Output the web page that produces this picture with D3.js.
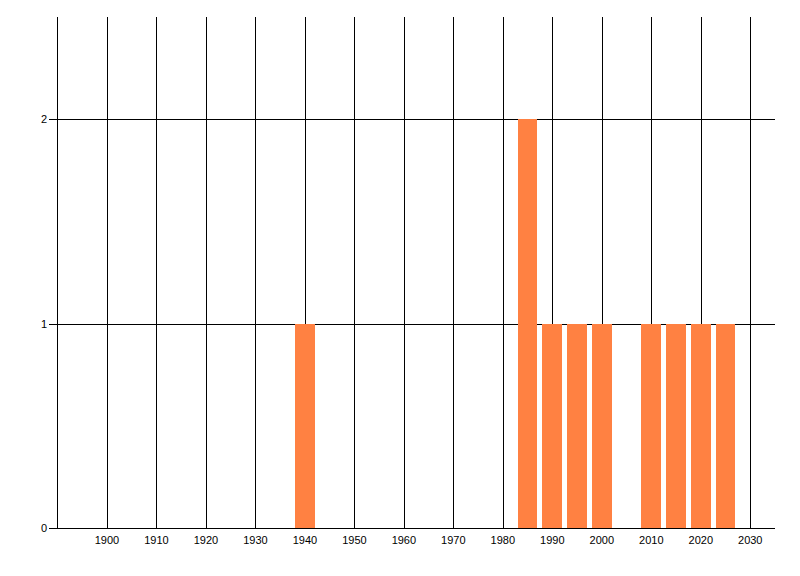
<!DOCTYPE html>
<html>
<head>
<meta charset="utf-8">
<script src="https://cdn.jsdelivr.net/npm/d3@7"></script>
<style>
html,body{margin:0;padding:0;background:#fff;}
svg{display:block;}
line,rect{shape-rendering:crispEdges;}
text{font-family:"Liberation Sans","DejaVu Sans",sans-serif;font-size:11px;fill:#000;}
</style>
</head>
<body>
<svg id="chart" width="800" height="576"></svg>
<script>
const years = [1940, 1985, 1990, 1995, 2000, 2010, 2015, 2020, 2025];
const counts = [1, 2, 1, 1, 1, 1, 1, 1, 1];
const xTicks = [1900, 1910, 1920, 1930, 1940, 1950, 1960, 1970, 1980, 1990, 2000, 2010, 2020, 2030];
const yTicks = [0, 1, 2];
const xDomain = [1890, 2035];
const yDomain = [0, 2.5];
const binWidth = 4;

(function () {
const svg = d3.select("#chart");
const pL = 57.5, pR = 775, pT = 17, pB = 528;
const x = d3.scaleLinear().domain(xDomain).range([pL, pR]);
const y = d3.scaleLinear().domain(yDomain).range([pB, pT]);

// vertical grid
svg.append("g").selectAll("line").data(xTicks).join("line")
  .attr("x1", d => Math.round(x(d)) + 0.5).attr("x2", d => Math.round(x(d)) + 0.5)
  .attr("y1", pT).attr("y2", pB)
  .attr("stroke", "#000").attr("stroke-width", 1);
// left axis line
svg.append("line").attr("x1", pL).attr("x2", pL).attr("y1", pT).attr("y2", pB)
  .attr("stroke", "#000");
// horizontal grid
svg.append("g").selectAll("line").data(yTicks.filter(d => d > 0)).join("line")
  .attr("x1", 49).attr("x2", pR)
  .attr("y1", d => Math.round(y(d)) + 0.5).attr("y2", d => Math.round(y(d)) + 0.5)
  .attr("stroke", "#000");

// bars
svg.append("g").selectAll("rect").data(years).join("rect")
  .attr("x", (d) => x(d - binWidth / 2))
  .attr("width", (d) => x(d + binWidth / 2) - x(d - binWidth / 2))
  .attr("y", (d, i) => y(counts[i]))
  .attr("height", (d, i) => y(0) - y(counts[i]))
  .attr("fill", "#FF8142");

// x axis line
svg.append("line").attr("x1", 49).attr("x2", pR).attr("y1", pB + 0.5).attr("y2", pB + 0.5)
  .attr("stroke", "#000");

// x labels
svg.append("g").selectAll("text").data(xTicks).join("text")
  .attr("x", d => x(d)).attr("y", 544)
  .attr("text-anchor", "middle").text(d => d);
// y labels
svg.append("g").selectAll("text").data(yTicks).join("text")
  .attr("x", 47).attr("y", d => y(d) + 4)
  .attr("text-anchor", "end").text(d => d);
})();
</script>
</body>
</html>
